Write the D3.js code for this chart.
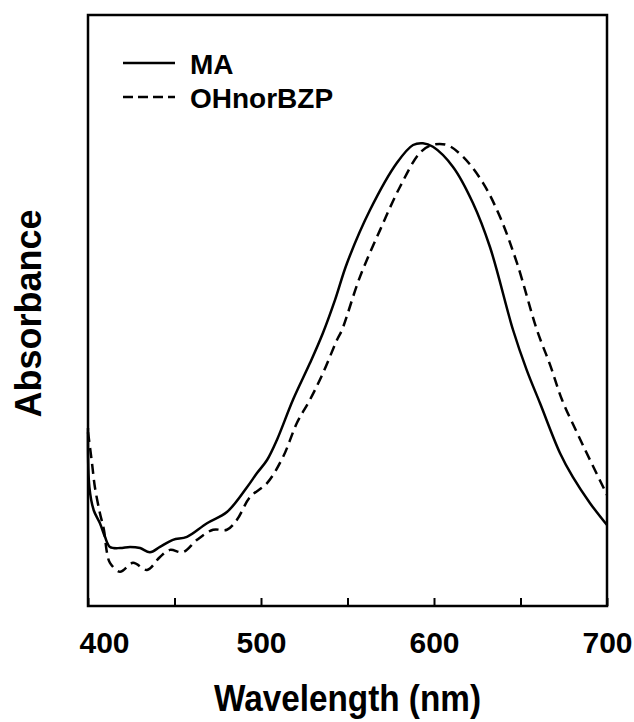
<!DOCTYPE html>
<html>
<head>
<meta charset="utf-8">
<script src="https://cdn.jsdelivr.net/npm/d3@7"></script>
<style>
  body { margin: 0; background: #fff; }
  text { font-family: "Liberation Sans", Arial, sans-serif; font-weight: bold; fill: #000; }
</style>
</head>
<body>
<svg id="chart"></svg>
<script>
// Chart size
const width = 634, height = 722;

// Spectrum (arbitrary absorbance units, 0..1 of plot height)
const wavelengthsMA = [400, 400.8, 403.3, 406.9, 409.8, 412.7, 418.5, 424.3, 430.1, 435.8, 441.6, 449.1,
  457.2, 468.8, 480.3, 491.9, 497.7, 503.5, 509.2, 518.5, 528.3, 535.8, 542.8, 549.7, 563, 578.6,
  587.9, 593.6, 599.4, 611, 622.5, 632.4, 645.7, 653.5, 661.3, 672.8, 680.3, 690.2, 700];
const absorbanceMA = [0.301, 0.201, 0.162, 0.140, 0.117, 0.100, 0.098, 0.100, 0.098, 0.091, 0.100, 0.112,
  0.117, 0.140, 0.159, 0.201, 0.225, 0.247, 0.281, 0.349, 0.411, 0.462, 0.518, 0.580, 0.670, 0.750,
  0.780, 0.783, 0.777, 0.743, 0.682, 0.607, 0.467, 0.400, 0.343, 0.259, 0.218, 0.174, 0.137];

const wavelengthsOH = [400, 400.6, 402.3, 404, 406.9, 409.2, 411, 412.7, 418.5, 426, 434.1, 441.6, 447.4,
  454.9, 463, 472.3, 480.3, 486.1, 493.6, 503.5, 512.7, 520.8, 528.3, 535.8, 543.9, 546.8, 557.2,
  568.8, 580.3, 591.9, 598.8, 607.5, 616.8, 628.3, 638.2, 648, 659.5, 667.1, 674, 682.7, 690.2, 700];
const absorbanceOH = [0.294, 0.281, 0.242, 0.201, 0.157, 0.129, 0.090, 0.073, 0.058, 0.073, 0.061, 0.083, 0.095,
  0.091, 0.112, 0.129, 0.129, 0.146, 0.184, 0.208, 0.252, 0.310, 0.349, 0.394, 0.450, 0.467, 0.557,
  0.636, 0.709, 0.767, 0.780, 0.780, 0.760, 0.716, 0.658, 0.580, 0.467, 0.408, 0.349, 0.293, 0.247, 0.188];

// Axis ticks and labels
const tickValues = [400, 450, 500, 550, 600, 650, 700];
const tickLabels = [400, 500, 600, 700];

// Legend entries
const seriesNames = ['MA', 'OHnorBZP'];

const svg = d3.select('#chart').attr('width', width).attr('height', height);

// plot box
const plotLeft = 88, plotRight = 607, plotTop = 15, plotBottom = 606;

const x = d3.scaleLinear().domain([400, 700]).range([plotLeft, plotRight]);
const y = d3.scaleLinear().domain([0, 1]).range([plotBottom, plotTop]);

// x axis, ticks pointing inward
const xAxis = d3.axisBottom(x)
  .tickValues(tickValues)
  .tickSizeInner(-8)
  .tickSizeOuter(0)
  .tickFormat(d => tickLabels.includes(d) ? d : '');

const gx = svg.append('g')
  .attr('transform', `translate(0,${plotBottom})`)
  .call(xAxis);
gx.select('.domain').remove();
gx.selectAll('.tick line').attr('stroke', '#000').attr('stroke-width', 2);
gx.selectAll('.tick text')
  .attr('y', 47)
  .attr('dy', 0)
  .style('font-size', '30px')
  .style('font-family', '"Liberation Sans", Arial, sans-serif')
  .style('font-weight', 'bold');
// the 400 label sits to the right of its tick in the original
gx.selectAll('.tick text').filter(d => d === 400).attr('text-anchor', 'start').attr('x', -9);

// frame
svg.append('rect')
  .attr('x', plotLeft).attr('y', plotTop)
  .attr('width', plotRight - plotLeft).attr('height', plotBottom - plotTop)
  .attr('fill', 'none').attr('stroke', '#000').attr('stroke-width', 2.5);

// curves
const line = d3.line()
  .x(d => x(d[0]))
  .y(d => y(d[1]))
  .curve(d3.curveCatmullRom.alpha(0.5));

svg.append('path')
  .datum(d3.zip(wavelengthsMA, absorbanceMA))
  .attr('d', line)
  .attr('fill', 'none').attr('stroke', '#000').attr('stroke-width', 2.5);

svg.append('path')
  .datum(d3.zip(wavelengthsOH, absorbanceOH))
  .attr('d', line)
  .attr('fill', 'none').attr('stroke', '#000').attr('stroke-width', 2.5)
  .attr('stroke-dasharray', '10,6');

// legend
const legend = svg.append('g');
seriesNames.forEach((name, i) => {
  const ly = 63 + i * 34;
  legend.append('line')
    .attr('x1', 123).attr('x2', 175).attr('y1', ly).attr('y2', ly)
    .attr('stroke', '#000').attr('stroke-width', 2.5)
    .attr('stroke-dasharray', i === 1 ? '10,5' : null);
  legend.append('text')
    .attr('x', 190).attr('y', ly + 11)
    .style('font-size', '28px')
    .text(name);
});

// axis titles
svg.append('text')
  .attr('x', (plotLeft + plotRight) / 2).attr('y', 711)
  .attr('text-anchor', 'middle')
  .attr('textLength', 267).attr('lengthAdjust', 'spacingAndGlyphs')
  .style('font-size', '36px')
  .text('Wavelength (nm)');

svg.append('text')
  .attr('transform', `translate(41,${(plotTop + plotBottom) / 2 + 3}) rotate(-90)`)
  .attr('text-anchor', 'middle')
  .style('font-size', '36px')
  .text('Absorbance');
</script>
</body>
</html>
